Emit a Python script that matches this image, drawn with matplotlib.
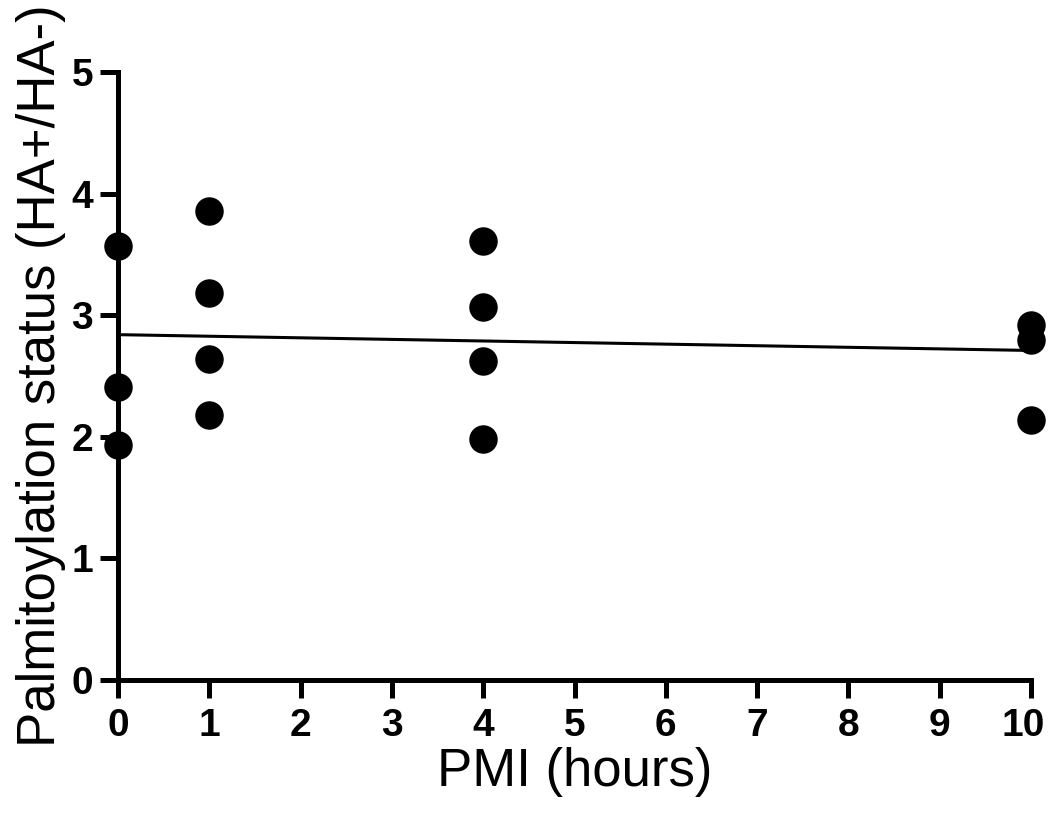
import numpy as np
import matplotlib.pyplot as plt
import matplotlib.transforms as mtransforms

plt.rcParams['font.family'] = ['Liberation Sans', 'DejaVu Sans']

# PMI (hours) and palmitoylation ratio per sample
pmi = [0, 0, 0, 1, 1, 1, 1, 4, 4, 4, 4, 10, 10, 10]
status = [3.57, 2.41, 1.93, 3.86, 3.18, 2.64, 2.18, 3.61, 3.07, 2.62, 1.98, 2.92, 2.80, 2.14]

# linear fit
fit_x = [0, 10]
fit_y = [2.84, 2.71]

fig = plt.figure(figsize=(10.5, 8.21), dpi=100)
ax = fig.add_axes([118 / 1050, 1 - 680 / 821, (1031 - 118) / 1050, (680 - 72) / 821])

ax.plot(fit_x, fit_y, color='black', linewidth=2.2, zorder=2)
ax.scatter(pmi, status, s=380, color='black', zorder=3, clip_on=False)

ax.set_xlim(0, 10)
ax.set_ylim(0, 5)
ax.set_xticks(range(0, 11))
ax.set_yticks(range(0, 6))

for side in ['top', 'right']:
    ax.spines[side].set_visible(False)
for side in ['left', 'bottom']:
    ax.spines[side].set_linewidth(3.6)

ax.tick_params(axis='both', length=13, width=3.6, labelsize=28)
ax.tick_params(axis='y', pad=5)
ax.tick_params(axis='x', pad=7)
for lbl in ax.get_xticklabels() + ax.get_yticklabels():
    lbl.set_fontweight('bold')

# keep the last x label inside the canvas, as in the original
last = ax.get_xticklabels()[-1]
last.set_transform(last.get_transform() + mtransforms.ScaledTranslation(-8 / 100, 0, fig.dpi_scale_trans))

ax.set_xlabel('PMI (hours)', fontsize=38, labelpad=2)
ax.set_ylabel('Palmitoylation status (HA+/HA-)', fontsize=38, labelpad=4)

plt.savefig('out.png', dpi=100)
